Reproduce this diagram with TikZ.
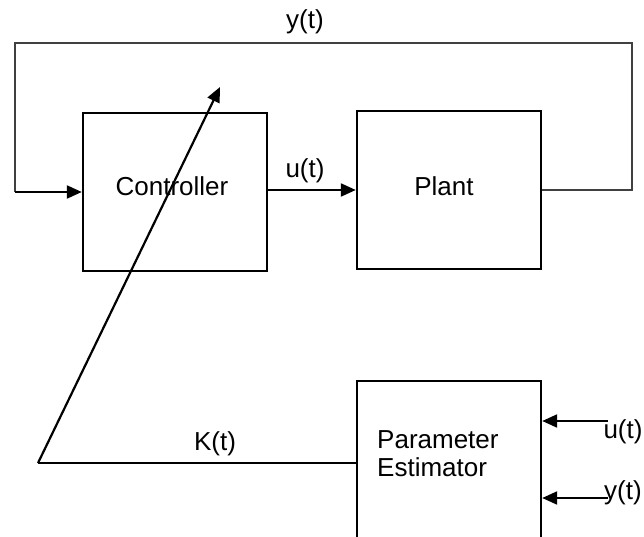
\documentclass[tikz,border=0pt]{standalone}
\usepackage{fontspec}
\setmainfont{Liberation Sans}
\usetikzlibrary{arrows.meta}
\begin{document}
\begin{tikzpicture}[x=1pt,y=-1pt,
  blk/.style={draw=black,line width=2.4pt,minimum width=184pt,minimum height=158pt,inner sep=0pt},
  lbl/.style={font=\fontsize{26}{28}\selectfont,inner sep=0pt},
  sig/.style={line width=2.2pt,-{Triangle[length=15pt,width=13pt]}},
  fb/.style={draw=black!75,line width=1.8pt}]
\useasboundingbox (0,0) rectangle (644,537);
\node[blk] (ctrl) at (175,192) {};
\node[lbl] (ctrltxt) at (172,186) {Controller};
\node[blk] (plant) at (449,190) {};
\node[lbl] (planttxt) at (444,186) {Plant};
\node[blk,minimum height=200pt] (est) at (449,481) {};
\node[lbl,align=left,anchor=west] (esttxt) at (377,454) {Parameter\\Estimator};
% u(t) between controller and plant
\draw[sig] (ctrl.east |- plant.west) -- (plant.west);
\node[lbl] (ulbl) at (305,171) {u(t)};
% feedback loop
\coordinate (fbR) at (632,190);
\coordinate (fbTR) at (632,43);
\coordinate (fbTL) at (15,43);
\coordinate (fbBL) at (15,192);
\draw[fb] (plant.east) -- (fbR) -- (fbTR) -- (fbTL) -- (fbBL);
\draw[sig,draw=black] (fbBL) -- (ctrl.west);
\node[lbl] (ylbl) at (305,22) {y(t)};
% K(t) adaptation arrow
\coordinate (kturn) at (38,463);
\coordinate (ktip) at (220,87);
\draw[line width=1.8pt] (est.west |- kturn) -- (kturn);
\draw[sig] (kturn) -- (ktip);
\node[lbl] (klbl) at (215,444) {K(t)};
% estimator inputs
\coordinate (uin) at (608,421);
\coordinate (yin) at (608,498);
\draw[sig] (uin) -- (est.east |- uin);
\draw[sig] (yin) -- (est.east |- yin);
\node[lbl] (uinlbl) at (623,432) {u(t)};
\node[lbl] (yinlbl) at (623,493) {y(t)};
\end{tikzpicture}
\end{document}
